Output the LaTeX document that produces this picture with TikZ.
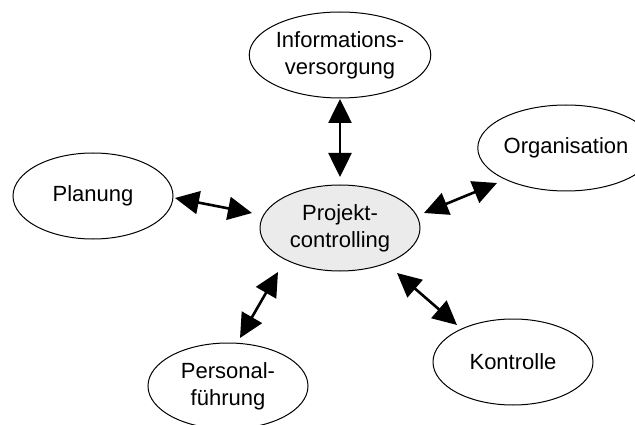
\documentclass[tikz,border=0pt]{standalone}
\usepackage{fontspec}
\setmainfont{Liberation Sans}
\usetikzlibrary{shapes.geometric,arrows.meta}
\definecolor{centerfill}{RGB}{235,235,235}
\tikzset{
  bubble/.style={ellipse, draw=black, line width=1pt, fill=white, minimum width=160pt, minimum height=86pt, inner sep=0pt, align=center, font=\fontsize{22}{27}\selectfont},
  link/.style={line width=2.6pt, {Triangle[length=24pt,width=23pt]}-{Triangle[length=24pt,width=23pt]}}
}
\begin{document}
\begin{tikzpicture}[x=1pt,y=-1pt]
\clip (0,0) rectangle (635,425);
\useasboundingbox (0,0) rectangle (635,425);
\node[bubble] (info) at (340,55) {Informations-\\versorgung};
\node[bubble, fill=centerfill] (pc) at (340,228) {Projekt-\\controlling};
\node[bubble] (plan) at (93,196) {Planung};
\node[bubble] (org) at (566,148) {Organisation};
\node[bubble] (kon) at (513,362) {Kontrolle};
\node[bubble] (pers) at (228,386) {Personal-\\führung};
\coordinate (i1) at (340,99);
\coordinate (i2) at (340,177);
\coordinate (p1) at (175,198);
\coordinate (p2) at (252,213);
\coordinate (o1) at (497,183);
\coordinate (o2) at (424,213);
\coordinate (k1) at (397,273);
\coordinate (k2) at (457,325);
\coordinate (f1) at (278,272);
\coordinate (f2) at (240,338);
\draw[link] (i1) -- (i2);
\draw[link] (p1) -- (p2);
\draw[link] (o1) -- (o2);
\draw[link] (k1) -- (k2);
\draw[link] (f1) -- (f2);
\end{tikzpicture}
\end{document}
